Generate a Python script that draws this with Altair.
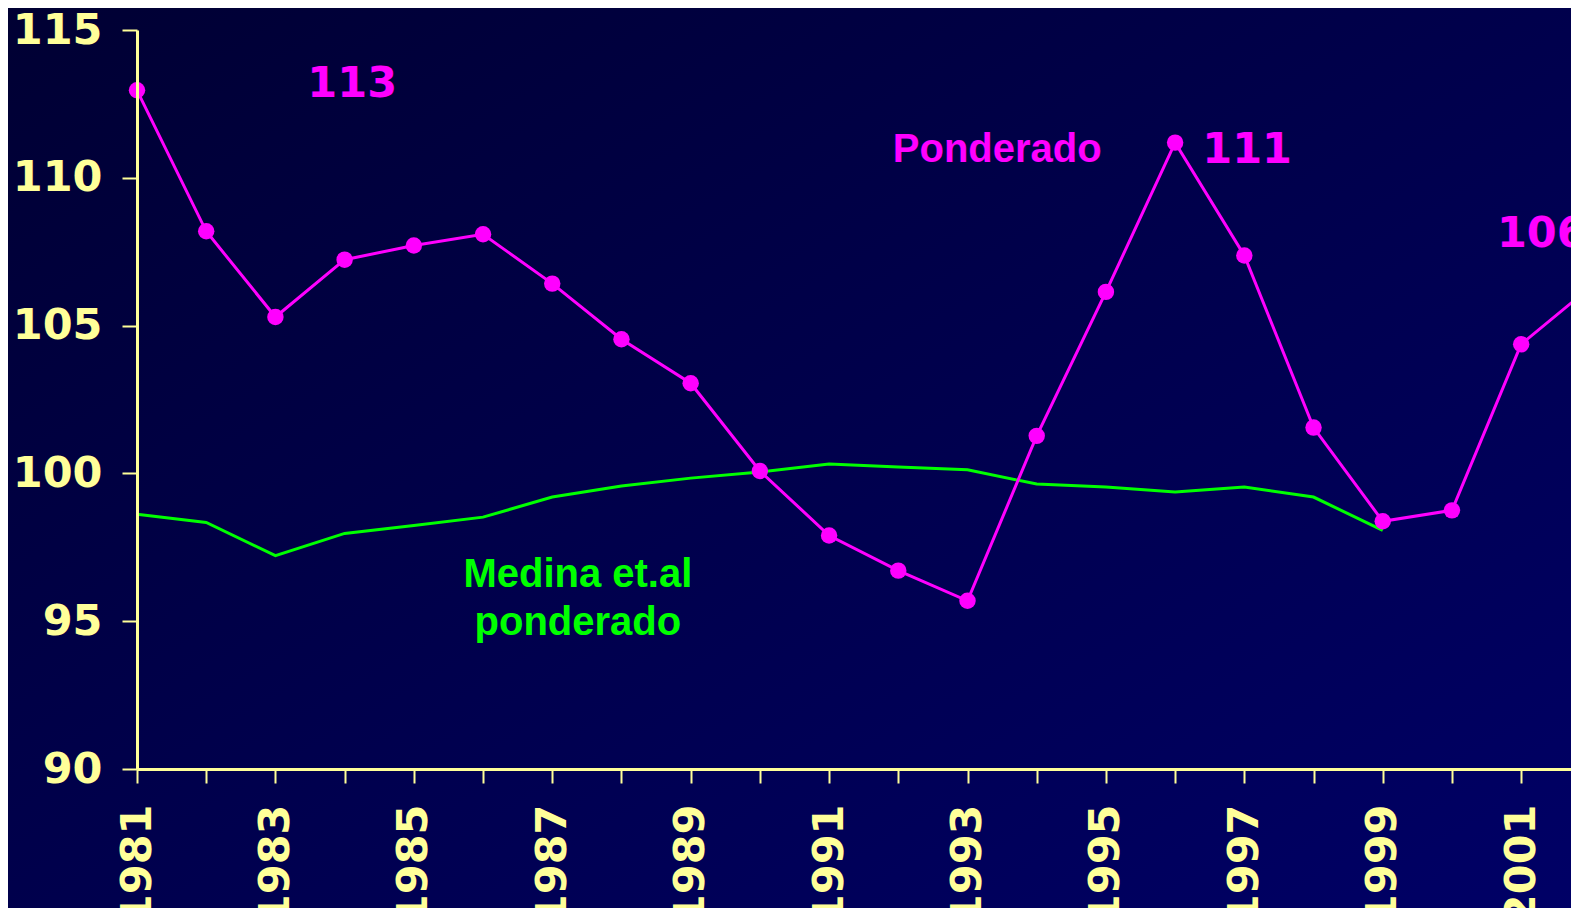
import altair as alt
import pandas as pd

years = list(range(1981, 2003))
ponderado = [112.96, 108.19, 105.29, 107.23, 107.71, 108.09, 106.42, 104.54, 103.05,
             100.08, 97.90, 96.71, 95.69, 101.27, 106.14, 111.19, 107.37, 101.55,
             98.38, 98.75, 104.37, 106.3]
medina_years = list(range(1981, 2000))
medina = [98.62, 98.34, 97.22, 97.97, 98.24, 98.52, 99.20, 99.57, 99.84, 100.05,
          100.32, 100.22, 100.12, 99.64, 99.54, 99.37, 99.54, 99.20, 98.07]
y_ticks = [90, 95, 100, 105, 110, 115]
x_ticks = list(range(1981, 2002))

df_p = pd.DataFrame({"year": years, "value": ponderado})
df_m = pd.DataFrame({"year": medina_years, "value": medina})

W, H = 1434, 739
PL, PT, PB = 129, 22, 139
YEL = "#FFFF99"
MAG = "#FF00FF"
GRN = "#00FF00"

xscale = alt.Scale(domain=[1981, 2001.72], nice=False, zero=False)
yscale = alt.Scale(domain=[90, 115], nice=False, zero=False)

xenc = alt.X("year:Q", scale=xscale, axis=alt.Axis(
    values=x_ticks, format="d", labelExpr="datum.value % 2 == 1 ? datum.label : ''",
    labelAngle=270, labelAlign="right", labelBaseline="middle", labelOverlap=False,
    labelFlush=False, labelBound=False, labelPadding=21, tickSize=14, tickWidth=2,
    tickColor=YEL, domainColor=YEL, domainWidth=3, labelColor=YEL,
    labelFont="DejaVu Sans", labelFontWeight="bold", labelFontSize=43,
    grid=False, title=None, zindex=1))
yenc = alt.Y("value:Q", scale=yscale, axis=alt.Axis(
    values=y_ticks, labelFlush=False, labelOverlap=False, labelPadding=20,
    tickSize=15, tickWidth=2, tickColor=YEL, domainColor=YEL, domainWidth=3,
    labelColor=YEL, labelFont="DejaVu Sans", labelFontWeight="bold",
    labelFontSize=43, grid=False, title=None, zindex=1))

bg = alt.Chart(pd.DataFrame({"a": [0]})).mark_rect(
    fill=alt.LinearGradient(gradient="linear", x1=0, y1=0, x2=1, y2=1,
                            stops=[alt.GradientStop(offset=0, color="#000033"),
                                   alt.GradientStop(offset=1, color="#000066")])
).encode(x=alt.value(-PL), x2=alt.value(W + 10), y=alt.value(-PT), y2=alt.value(H + PB))

green = alt.Chart(df_m).mark_line(color=GRN, strokeWidth=3).encode(x=xenc, y=yenc)
mag_line = alt.Chart(df_p).mark_line(color=MAG, strokeWidth=3).encode(x=xenc, y=yenc)
mag_pts = alt.Chart(df_p).mark_circle(color=MAG, size=270, opacity=1).encode(x=xenc, y=yenc)

def label(txt, x, y, color, font, size, align="center"):
    return alt.Chart(pd.DataFrame({"a": [0]})).mark_text(
        text=txt, color=color, font=font, fontSize=size, fontWeight="bold",
        align=align, baseline="alphabetic", lineHeight=48
    ).encode(x=alt.X(datum=x, scale=xscale), y=alt.Y(datum=y, scale=yscale))

t113 = label("113", 1984.11, 112.75, MAG, "DejaVu Sans", 43)
tpond = label("Ponderado", 1993.43, 110.54, MAG, "Liberation Sans", 40)
t111 = label("111", 1997.04, 110.51, MAG, "DejaVu Sans", 43)
t106 = label("106", 2000.65, 107.67, MAG, "DejaVu Sans", 43, align="left")
tmed = label(["Medina et.al", "ponderado"], 1987.37, 96.16, GRN, "Liberation Sans", 40)

chart = alt.layer(bg, green, mag_line, mag_pts, t113, tpond, t111, t106, tmed).properties(
    width=W, height=H,
    autosize=alt.AutoSizeParams(type="none"),
    padding={"left": PL, "top": PT, "right": 0, "bottom": PB},
    background="#000040",
).configure_view(stroke=None)

chart.save("out.html", embed_options={"renderer": "svg", "actions": False})
